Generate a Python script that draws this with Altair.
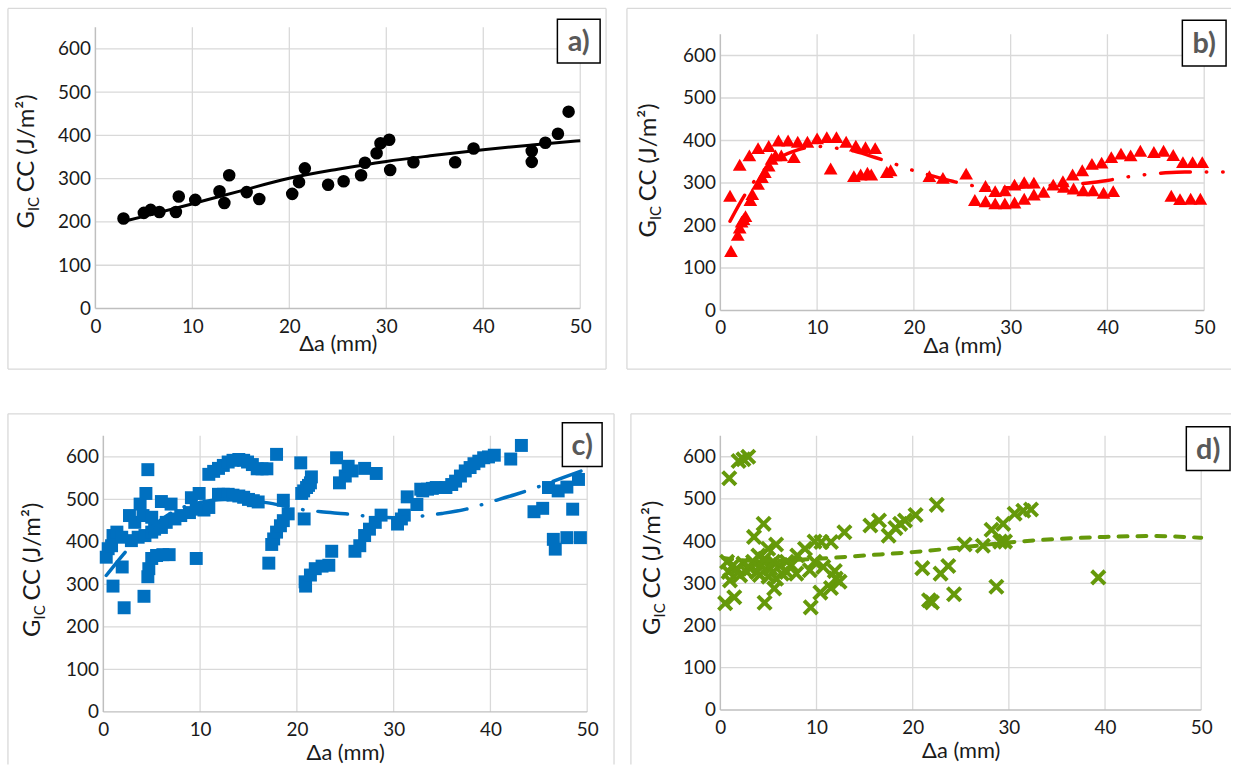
import altair as alt
import pandas as pd

# ---------------- data ----------------
X_TICKS = [0, 10, 20, 30, 40, 50]
Y_TICKS = [0, 100, 200, 300, 400, 500, 600]
Y_MAX = 650

# a) black circles
A_X = [2.9, 5.0, 5.7, 6.6, 8.3, 8.6, 10.3, 12.8, 13.3, 13.8, 15.6, 16.9, 20.3, 21.0, 21.6, 24.0,
       25.6, 27.4, 27.8, 29.0, 29.4, 30.3, 30.4, 32.8, 37.1, 39.0, 45.0, 45.0, 46.4, 47.7, 48.8]
A_Y = [208, 221, 228, 223, 223, 259, 251, 271, 244, 308, 269, 253, 265, 292, 324, 286,
       294, 308, 337, 359, 382, 390, 320, 338, 338, 370, 364, 339, 383, 404, 455]
A_TX = [3, 5, 10, 15, 20, 25, 30, 35, 40, 45, 50]
A_TY = [202, 213, 242, 272, 301, 322, 340, 354, 367, 378, 388]

# b) red triangles
B_X = [1.1, 1.8, 2.0, 2.2, 2.4, 2.6, 1.0, 2.0, 3.0, 3.1, 3.3, 3.9, 3.9, 4.3, 4.6, 5.0, 5.0, 5.3,
       5.7, 6.0, 6.3, 7.0, 7.6, 8.0, 9.0, 10.0, 11.0, 12.0, 13.0, 14.0, 15.0, 16.0, 11.4, 13.8,
       14.5, 15.2, 15.6, 17.2, 17.6, 21.6, 23.0, 25.4,
       26.3, 27.4, 28.4, 29.4, 30.4, 31.4, 32.4, 33.4,
       27.4, 28.4, 29.4, 30.4, 31.4, 32.4, 34.4, 35.4, 36.4, 37.4, 38.4, 39.4, 40.4, 41.4, 42.4,
       43.4, 44.8, 45.8, 46.8, 47.8, 48.8, 49.8,
       35.5, 36.5, 37.5, 38.5, 39.6, 40.6, 46.6, 47.5, 48.6, 49.6]
B_Y = [140, 178, 195, 209, 215, 222, 270, 343, 365, 260, 274, 382, 298, 314, 326, 341, 387, 357,
       365, 400, 365, 400, 361, 397, 397, 405, 408, 408, 397, 388, 384, 382, 334, 316,
       320, 324, 320, 326, 330, 316, 312, 322,
       260, 257, 252, 252, 254, 263, 273, 279,
       293, 281, 283, 296, 302, 301, 296, 304, 320, 330, 345, 348, 361, 369, 365,
       376, 373, 376, 366, 349, 349, 349,
       291, 287, 283, 283, 277, 281, 270, 262, 263, 263]
B_TX = [1, 2.5, 4, 6, 8, 10, 12, 14, 16, 18, 20, 22, 24, 26, 28, 30, 32, 34, 36, 38, 40, 42,
        44, 46, 48, 50, 52.5]
B_TY = [210, 271, 318, 358, 378, 386, 382, 374, 360, 345, 329, 316, 304, 294, 289, 289, 291,
        294, 297, 300, 306, 314, 320, 324, 326, 326, 326]

# c) blue squares
C_X = [0.3, 0.5, 0.85, 1.0, 1.0, 1.4, 1.9, 1.95, 2.15, 2.7, 2.9, 3.25, 3.6, 3.8, 4.1, 4.2, 4.3,
       4.4, 4.6, 4.6, 4.7, 5.0, 5.0, 5.0, 5.3, 5.5, 6.0, 6.0, 6.15, 6.5, 6.8, 7.0, 7.4, 8.0, 8.9,
       9.1, 9.6, 9.6, 9.9, 10.4, 10.9, 10.9, 11.4, 11.9, 11.9, 12.4, 12.4, 12.9, 12.9, 13.4, 13.4,
       14.0, 14.0, 14.5, 14.5, 14.9, 15.0, 15.4, 15.5, 15.9, 16.0, 16.4, 16.9, 17.1, 17.4, 17.6,
       17.9, 17.9, 18.3, 18.6, 18.6, 19.1, 20.4, 20.5, 20.7, 20.75, 20.85, 20.9, 21.0, 21.2, 21.4,
       21.4, 21.5, 21.9, 22.6, 23.3, 23.6, 24.1, 24.4, 25.0, 25.3, 25.7, 26.0, 26.5, 27.0, 27.0,
       27.5, 28.1, 28.2, 28.7, 30.4, 30.8, 31.1, 31.4, 32.4, 32.8, 33.0, 33.5, 34.0, 34.4, 35.4,
       36.0, 36.4, 36.9, 37.4, 37.9, 38.3, 38.8, 39.3, 39.8, 40.4, 42.1, 43.2, 44.5, 45.4, 46.0,
       47.0, 47.9, 49.1, 48.5, 46.5, 46.7, 47.9, 49.3]
C_Y = [364, 384, 391, 415, 296, 423, 411, 341, 245, 462, 403, 446, 411, 489, 462, 272, 415,
       514, 570, 318, 337, 423, 458, 361, 430, 368, 495, 434, 370, 446, 370, 489, 454, 462, 469,
       504, 477, 361, 514, 475, 481, 559, 566, 573, 512, 580, 512, 588, 512, 592, 510,
       594, 508, 592, 505, 588, 500, 582, 497, 572, 494, 572, 572, 350, 394, 407,
       423, 606, 438, 450, 498, 466, 586, 514, 520, 454, 306, 296, 528, 533, 539,
       322, 553, 337, 343, 345, 378, 598, 539, 555, 578, 567, 378, 391, 573, 415,
       430, 446, 561, 463, 442, 454, 463, 506, 488, 524, 520, 524, 526, 528, 528,
       535, 543, 555, 567, 575, 584, 590, 598, 600, 604, 595, 627, 471, 479, 528,
       520, 529, 547, 477, 406, 383, 410, 410]
C_TX = [0.3, 1.5, 2.5, 5, 7.5, 10, 12.5, 15, 17.5, 20, 22.5, 25, 27.5, 30, 32.5, 35, 37.5, 40,
        42.5, 45, 47.5, 50]
C_TY = [321, 355, 382, 435, 474, 493, 500, 498, 490, 478, 471, 466, 460, 457, 460, 467, 477,
        494, 511, 530, 551, 572]

# d) green crosses
D_X = [0.93, 1.9, 2.4, 2.9, 0.5, 1.45, 4.5, 3.5, 4.6, 5.6, 5.8, 9.4, 10.4, 11.5, 12.4, 11.9,
       12.9, 11.5, 10.5, 9.8, 8.8, 8.0, 6.9, 5.8, 4.98, 3.95,
       0.7, 0.86, 1.0, 1.3, 1.7, 2.06, 2.4, 2.7, 3.1, 3.4, 3.8, 4.1, 4.3, 4.6, 5.0, 5.2, 5.5,
       6.2, 6.4, 6.9, 7.4, 7.9, 9.3, 9.8, 10.7, 12.0,
       15.6, 16.5, 17.5, 18.2, 18.7, 19.2, 20.3, 22.5, 21.0, 21.7, 22.0, 22.9, 23.7, 24.3, 25.4,
       27.3, 28.7, 29.1, 29.6, 28.2, 29.4, 30.6, 31.5, 32.3, 39.3]
D_Y = [549, 590, 594, 600, 253, 267, 441, 410, 254, 288, 311, 243, 278, 289, 304, 329,
       421, 398, 398, 399, 382, 366, 351, 392, 382, 366,
       351, 327, 307, 342, 335, 319, 347, 328, 335, 351, 327, 320, 343, 358, 316, 335, 351,
       343, 323, 327, 343, 323, 331, 351, 339, 311,
       437, 449, 413, 431, 441, 449, 462, 486, 336, 260, 255, 323, 341, 274, 392,
       389, 292, 399, 399, 427, 441, 465, 472, 475, 314]
D_TX = [0.3, 2, 4, 6, 10, 15, 20, 25, 30, 35, 40, 45, 50]
D_TY = [360, 355, 353, 354, 358, 366, 374, 385, 397, 405, 410, 412, 408]

# ---------------- style ----------------
FONT = "Lato"
TXT = "#1a1a1a"
GRID = "#d9d9d9"
DOMAIN = "#bfbfbf"
BORDER = "#d9d9d9"
RED = "#ff0000"
BLUE = "#0070c0"
GREEN = "#65990a"
ONE = pd.DataFrame({"k": [0]})


def seg(x1, y1, x2, y2, color=BORDER, width=1.3):
    return alt.Chart(ONE).mark_rule(color=color, strokeWidth=width).encode(
        x=alt.value(x1), x2=alt.value(x2), y=alt.value(y1), y2=alt.value(y2))


def label_box(x1, y1, x2, y2, txt):
    rect = alt.Chart(ONE).mark_rect(fill="white", stroke="black", strokeWidth=1.5).encode(
        x=alt.value(x1), x2=alt.value(x2), y=alt.value(y1), y2=alt.value(y2))
    t = alt.Chart(ONE).mark_text(text=txt, font=FONT, fontSize=29, fontWeight="bold",
                                 color="#595959", align="center", baseline="middle").encode(
        x=alt.value((x1 + x2) / 2), y=alt.value((y1 + y2) / 2 + 1))
    return [rect, t]


def ytitle(p1, bx):
    g = alt.Chart(ONE).mark_text(text="G", angle=270, align="right", baseline="alphabetic",
                                 font=FONT, fontSize=24, color=TXT).encode(
        x=alt.value(bx), y=alt.value(p1))
    ic = alt.Chart(ONE).mark_text(text="IC", angle=270, align="left", baseline="alphabetic",
                                  font=FONT, fontSize=15, color=TXT).encode(
        x=alt.value(bx + 5), y=alt.value(p1))
    rest = alt.Chart(ONE).mark_text(text="CC (J/m²)", angle=270, align="left",
                                    baseline="alphabetic", font=FONT, fontSize=24,
                                    color=TXT).encode(
        x=alt.value(bx), y=alt.value(p1 - 19))
    return [g, ic, rest]


def panel(px, py, tx, ty, w, h, mark_kw, line_kw, borders, box, label, p1, bx,
          xrange=None, yrange=None, yoffset=0, lpad=8, tpad=0):
    xs = alt.Scale(domain=[0, 50], nice=False, zero=False, range=xrange or [0, w])
    ys = alt.Scale(domain=[0, Y_MAX], nice=False, zero=False, range=yrange or [h, 0])
    xax = alt.Axis(values=X_TICKS, title="Δa (mm)", grid=False, domain=False,
                   labelFlush=False, labelPadding=lpad, titlePadding=tpad)
    yax = alt.Axis(values=Y_TICKS, title=None, grid=False, domain=False, labelPadding=5,
                   offset=yoffset)

    def X(f):
        return alt.X(f, scale=xs, axis=xax)

    def Y(f):
        return alt.Y(f, scale=ys, axis=yax)

    vgrid = alt.Chart(pd.DataFrame({"t": X_TICKS[1:], "y0": 0, "y1": Y_MAX})).mark_rule(
        color=GRID, strokeWidth=1.3).encode(x=X("t:Q"), y=Y("y0:Q"), y2="y1:Q")
    hgrid = alt.Chart(pd.DataFrame({"t": Y_TICKS[1:], "x0": 0, "x1": 50})).mark_rule(
        color=GRID, strokeWidth=1.3).encode(y=Y("t:Q"), x=X("x0:Q"), x2="x1:Q")
    yline = alt.Chart(pd.DataFrame({"t": [0], "y0": [0], "y1": [Y_MAX]})).mark_rule(
        color=DOMAIN, strokeWidth=1.5).encode(x=X("t:Q"), y=Y("y0:Q"), y2="y1:Q")
    xline = alt.Chart(pd.DataFrame({"t": [0], "x0": [0], "x1": [50]})).mark_rule(
        color=DOMAIN, strokeWidth=1.5).encode(y=Y("t:Q"), x=X("x0:Q"), x2="x1:Q")
    pts = alt.Chart(pd.DataFrame({"x": px, "y": py})).mark_point(opacity=1, **mark_kw).encode(
        x=X("x:Q"), y=Y("y:Q"))
    tr = alt.Chart(pd.DataFrame({"x": tx, "y": ty})).mark_line(
        interpolate="monotone", **line_kw).encode(x=X("x:Q"), y=Y("y:Q"))
    layers = ([seg(*b) for b in borders] + [vgrid, hgrid, yline, xline, pts, tr]
              + label_box(*box, label) + ytitle(p1, bx))
    return alt.layer(*layers).properties(width=w, height=h)


# panel a shares its plot origin with b (row) and c (column); its scales are shifted
pa = panel(A_X, A_Y, A_TX, A_TY, 480, 276,
           dict(shape="circle", filled=True, size=160, color="black"),
           dict(color="black", strokeWidth=3),
           [(-96, -26, 506, -26), (-96, 337, 506, 337), (-96, -26, -96, 337), (506, -26, 506, 337)],
           (457, -15, 500, 29), "a)", 178, -70,
           xrange=[-8, 480], yrange=[276, -7], yoffset=8, lpad=9, tpad=-3)

pb = panel(B_X, B_Y, B_TX, B_TY, 487, 278,
           dict(shape="triangle-up", filled=True, size=190, color=RED),
           dict(color=RED, strokeWidth=3.5, strokeCap="round",
                strokeDash=[30, 16, 0.5, 16, 0.5, 16]),
           [(-94, -26, 514, -26), (-94, 337, 514, 337), (-94, -26, -94, 337)],
           (465, -14, 509, 32), "b)", 187, -65, lpad=8, tpad=-2)

pc = panel(C_X, C_Y, C_TX, C_TY, 487, 278,
           dict(shape="square", filled=True, size=170, color=BLUE),
           dict(color=BLUE, strokeWidth=3.5, strokeCap="round", strokeDash=[30, 15, 0.5, 15]),
           [(-96, -22, 514, -22), (-96, -22, -96, 331), (514, -22, 514, 331)],
           (462, -13, 502, 31), "c)", 185, -64, lpad=9, tpad=3)

pd_ = panel(D_X, D_Y, D_TX, D_TY, 484, 276,
            dict(shape="M-1,-1L1,1M-1,1L1,-1", filled=False, size=180, strokeWidth=4,
                 color=GREEN),
            dict(color=GREEN, strokeWidth=4, strokeCap="round", strokeDash=[9, 10]),
            [(-90, -22, 514, -22), (-90, -22, -90, 331)],
            (469, -9, 513, 35), "d)", 183, -61, lpad=9, tpad=3)

chart = alt.concat(pa, pb, pc, pd_, columns=2, align="each",
                   spacing={"row": 43, "column": 11}).properties(
    padding={"left": 7, "top": 5, "right": 0, "bottom": 0}, background="white"
).configure_view(strokeWidth=0).configure_axis(
    labelFont=FONT, labelFontSize=19, labelColor=TXT, titleFont=FONT, titleFontSize=22,
    titleFontWeight="normal", titleColor=TXT, ticks=False
)

chart.save("out.html", embed_options={"renderer": "svg", "actions": False})
